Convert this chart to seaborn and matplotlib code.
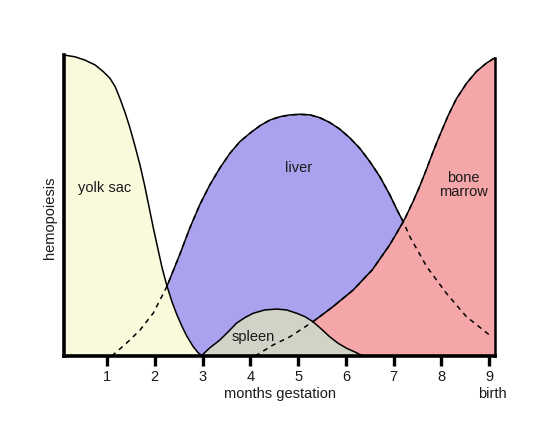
import numpy as np
import matplotlib
matplotlib.use("Agg")
import matplotlib.pyplot as plt
import seaborn as sns

# ---- data (months gestation, relative hemopoiesis) ----
yolk_x = [0.10, 0.33, 0.54, 0.75, 0.92, 1.06, 1.17, 1.27, 1.38, 1.48, 1.58,
          1.69, 1.79, 1.88, 1.97, 2.06, 2.15, 2.25, 2.36, 2.46, 2.57, 2.67,
          2.80, 2.90, 2.99]
yolk_y = [1.000, 0.994, 0.983, 0.967, 0.945, 0.923, 0.895, 0.856, 0.808, 0.758,
          0.701, 0.635, 0.565, 0.495, 0.425, 0.360, 0.295, 0.235, 0.180, 0.138,
          0.098, 0.066, 0.032, 0.012, 0.0]

liver_x = [1.10, 1.41, 1.69, 1.97, 2.25, 2.39, 2.53, 2.73, 2.94, 3.15, 3.36,
           3.57, 3.78, 3.99, 4.20, 4.41, 4.62, 4.83, 5.04, 5.25, 5.45, 5.66,
           5.87, 6.08, 6.29, 6.50, 6.71, 6.92, 7.09, 7.20, 7.34, 7.69, 8.10,
           8.52, 9.05]
liver_y = [0.0, 0.043, 0.086, 0.143, 0.230, 0.285, 0.340, 0.424, 0.502, 0.568,
           0.624, 0.673, 0.712, 0.740, 0.765, 0.784, 0.795, 0.801, 0.803, 0.801,
           0.792, 0.776, 0.754, 0.725, 0.690, 0.646, 0.596, 0.535, 0.479, 0.446,
           0.396, 0.297, 0.209, 0.131, 0.064]

spleen_x = [2.97, 3.15, 3.36, 3.54, 3.71, 3.89, 4.06, 4.30, 4.55, 4.76, 4.97,
            5.14, 5.31, 5.49, 5.66, 5.84, 6.01, 6.22, 6.35]
spleen_y = [0.0, 0.027, 0.053, 0.081, 0.109, 0.128, 0.142, 0.153, 0.156, 0.153,
            0.142, 0.131, 0.114, 0.089, 0.064, 0.042, 0.026, 0.011, 0.0]

bone_x = [4.10, 4.48, 4.83, 5.31, 5.73, 6.15, 6.55, 6.92, 7.20, 7.27, 7.41,
          7.55, 7.69, 7.82, 7.96, 8.14, 8.31, 8.52, 8.73, 8.94, 9.12]
bone_y = [0.0, 0.037, 0.064, 0.114, 0.164, 0.219, 0.286, 0.370, 0.446, 0.468,
          0.515, 0.566, 0.622, 0.677, 0.732, 0.799, 0.854, 0.905, 0.945, 0.973,
          0.991]

x_ticks = [1, 2, 3, 4, 5, 6, 7, 8, 9]
x_tick_labels = ["1", "2", "3", "4", "5", "6", "7", "8", "9"]

# ---- style ----
sns.set_theme(style="white")
plt.rcParams["font.family"] = ["Liberation Sans", "DejaVu Sans"]

C_YOLK = "#f9f9dc"
C_LIVER = "#aaa2ee"
C_BONE = "#f4a6a8"
C_SPLEEN = "#d2d2c6"
C_TEXT = "#1a1a1a"
FS = 10.5

fig = plt.figure(figsize=(5.34, 4.23), dpi=100)
ax = fig.add_axes([64 / 534, 67 / 423, 431 / 534, 316.05 / 423])
ax.set_xlim(yolk_x[0], bone_x[-1])
ax.set_ylim(0, 1.05)

# fills (layer order: liver, bone marrow, yolk sac, spleen)
ax.fill_between(liver_x, liver_y, 0, color=C_LIVER, lw=0, zorder=1)
ax.fill_between(bone_x, bone_y, 0, color=C_BONE, lw=0, zorder=2)
ax.fill_between(yolk_x, yolk_y, 0, color=C_YOLK, lw=0, zorder=3)
ax.fill_between(spleen_x, spleen_y, 0, color=C_SPLEEN, lw=0, zorder=4)

LW = 1.1


def solid(xs, ys):
    sns.lineplot(x=xs, y=ys, ax=ax, color="black", lw=LW, sort=False,
                 estimator=None, zorder=6)


def draw_outline(xs, ys, cover=None):
    xs = np.asarray(xs, float)
    ys = np.asarray(ys, float)
    if cover is None:
        solid(xs, ys)
        return
    cx, cy = cover
    cval = np.interp(xs, cx, cy, left=0, right=0)
    covered = ys < cval - 0.01
    # dashed full curve underneath (shows where the curve is hidden)
    ax.plot(xs, ys, color="black", lw=LW, ls=(0, (3.2, 3.0)), zorder=5)
    run = []
    for i in range(len(xs)):
        if not covered[i]:
            run.append(i)
        else:
            if len(run) > 1:
                solid(xs[run], ys[run])
            run = []
    if len(run) > 1:
        solid(xs[run], ys[run])


draw_outline(yolk_x, yolk_y)
draw_outline(spleen_x, spleen_y)
cover_x = np.concatenate([yolk_x, bone_x])
cover_y = np.concatenate([yolk_y, bone_y])
draw_outline(liver_x, liver_y, cover=(cover_x, cover_y))
draw_outline(bone_x, bone_y, cover=(spleen_x, spleen_y))

# spines
ax.spines["top"].set_visible(False)
ax.spines["bottom"].set_linewidth(2.6)
ax.spines["bottom"].set_color("black")
ax.spines["left"].set_linewidth(2.6)
ax.spines["left"].set_color("black")
ax.spines["left"].set_bounds(0, yolk_y[0])
ax.spines["right"].set_linewidth(1.8)
ax.spines["right"].set_color("black")
ax.spines["right"].set_bounds(0, bone_y[-1])
for s in ax.spines.values():
    s.set_zorder(7)

ax.set_xticks(x_ticks)
ax.set_xticklabels(x_tick_labels)
ax.set_yticks([])
ax.tick_params(axis="x", direction="out", length=7, width=2.4, pad=3,
               labelsize=FS, colors="black", labelcolor=C_TEXT, bottom=True)
ax.set_xlabel("")
ax.set_ylabel("")

# labels
ax.text(4.62, -0.126, "months gestation", ha="center", va="center",
        fontsize=FS, color=C_TEXT, clip_on=False)
ax.text(9.07, -0.126, "birth", ha="center", va="center", fontsize=FS,
        color=C_TEXT, clip_on=False)
ax.text(-0.19, 0.46, "hemopoiesis", ha="center", va="center", rotation=90,
        fontsize=FS, color=C_TEXT, clip_on=False)
ax.text(0.96, 0.558, "yolk sac", ha="center", va="center", fontsize=FS,
        color=C_TEXT, zorder=8)
ax.text(5.0, 0.624, "liver", ha="center", va="center", fontsize=FS,
        color=C_TEXT, zorder=8)
ax.text(8.46, 0.568, "bone\nmarrow", ha="center", va="center", fontsize=FS,
        color=C_TEXT, linespacing=1.05, zorder=8)
ax.text(4.06, 0.064, "spleen", ha="center", va="center", fontsize=FS,
        color=C_TEXT, zorder=8)

fig.savefig("out.png", dpi=100, facecolor="white")
